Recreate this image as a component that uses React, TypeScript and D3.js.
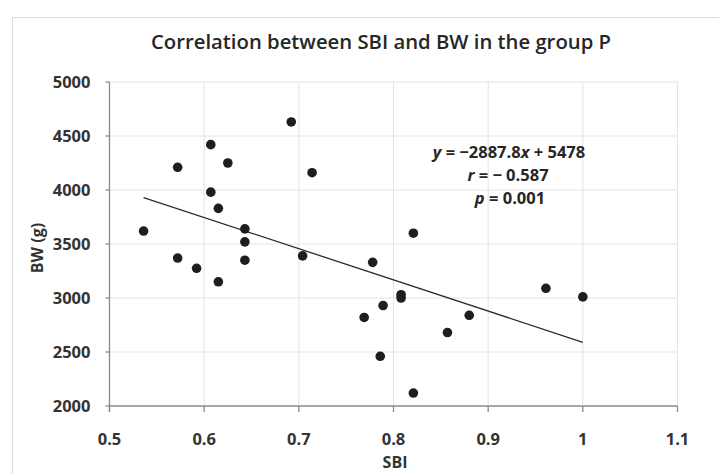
import React from "react";
import * as d3 from "d3";

const sbi = [0.536, 0.572, 0.572, 0.592, 0.607, 0.625, 0.607, 0.615, 0.615, 0.643, 0.643, 0.643, 0.692, 0.714, 0.704, 0.778, 0.821, 0.808, 0.808, 0.789, 0.769, 0.786, 0.821, 0.857, 0.88, 0.961, 1.0];
const bw = [3620, 4210, 3370, 3275, 4420, 4250, 3980, 3830, 3150, 3640, 3520, 3350, 4630, 4160, 3390, 3330, 3600, 3030, 3000, 2930, 2820, 2460, 2120, 2680, 2840, 3090, 3010];
const xTicks = [0.5, 0.6, 0.7, 0.8, 0.9, 1.0, 1.1];
const yTicks = [2000, 2500, 3000, 3500, 4000, 4500, 5000];
const slope = -2887.8;
const intercept = 5478;
const title = "Correlation between SBI and BW in the group P";
const xLabel = "SBI";
const yLabel = "BW (g)";

export default function App() {
  const W = 719, H = 474;
  const x = d3.scaleLinear().domain([0.5, 1.1]).range([109.5, 677.5]);
  const y = d3.scaleLinear().domain([2000, 5000]).range([406, 82]);
  const font = "'Open Sans', sans-serif";
  const gridColor = "#e3e3e3";
  const axisColor = "#8a8a8a";
  const xMin = d3.min(sbi) as number;
  const xMax = d3.max(sbi) as number;
  const line = d3.line<number>().x(d => x(d)).y(d => y(slope * d + intercept));
  const fmtX = (v: number) => (v === 1 ? "1" : d3.format(".1f")(v));
  return (
    <svg width={W} height={H} style={{ position: "absolute", left: 0, top: 0, background: "#fff" }}>
      <rect x={12.5} y={17.5} width={730} height={480} fill="#fff" stroke="#dedede" strokeWidth={1} />
      <text x={381} y={48.5} textAnchor="middle" fontFamily={font} fontWeight={600} fontSize={20} textLength={460} lengthAdjust="spacingAndGlyphs" fill="#262626">{title}</text>
      {yTicks.slice(1).map(t => (
        <line key={"gy" + t} x1={x(0.5)} x2={x(1.1)} y1={y(t)} y2={y(t)} stroke={gridColor} strokeWidth={1} />
      ))}
      {xTicks.slice(1).map(t => (
        <line key={"gx" + t} x1={x(t)} x2={x(t)} y1={y(2000)} y2={y(5000)} stroke={gridColor} strokeWidth={1} />
      ))}
      <line x1={x(0.5)} x2={x(0.5)} y1={y(5000)} y2={y(2000) + 6} stroke={axisColor} strokeWidth={1.3} />
      <line x1={x(0.5)} x2={x(1.1)} y1={y(2000)} y2={y(2000)} stroke={axisColor} strokeWidth={1.3} />
      {yTicks.map(t => (
        <line key={"ty" + t} x1={x(0.5) - 4} x2={x(0.5)} y1={y(t)} y2={y(t)} stroke={axisColor} strokeWidth={1.3} />
      ))}
      {xTicks.map(t => (
        <line key={"tx" + t} x1={x(t)} x2={x(t)} y1={y(2000)} y2={y(2000) + 6} stroke={axisColor} strokeWidth={1.3} />
      ))}
      {yTicks.map(t => (
        <text key={"ly" + t} x={90.5} y={y(t)} dy="0.36em" textAnchor="end" fontFamily={font} fontWeight={700} fontSize={16.5} fill="#333">{t}</text>
      ))}
      {xTicks.map(t => (
        <text key={"lx" + t} x={x(t)} y={439} dy="0.36em" textAnchor="middle" fontFamily={font} fontWeight={700} fontSize={16.5} fill="#333">{fmtX(t)}</text>
      ))}
      <text x={395} y={462} dy="0.36em" textAnchor="middle" fontFamily={font} fontWeight={700} fontSize={16} fill="#333">{xLabel}</text>
      <text transform={`translate(37,248) rotate(-90)`} dy="0.36em" textAnchor="middle" fontFamily={font} fontWeight={700} fontSize={16} fill="#333">{yLabel}</text>
      <path d={line([xMin, xMax]) || ""} stroke="#2b2b2b" strokeWidth={1.3} fill="none" />
      {sbi.map((v, i) => (
        <circle key={"p" + i} cx={x(v)} cy={y(bw[i])} r={4.8} fill="#1e1e1e" />
      ))}
      <g fontFamily={font} fontWeight={700} fontSize={16.5} fill="#262626" textAnchor="middle">
        <text x={509} y={152} dy="0.36em">
          <tspan fontStyle="italic">y</tspan> = −2887.8<tspan fontStyle="italic">x</tspan> + 5478
        </text>
        <text x={508} y={175} dy="0.36em">
          <tspan fontStyle="italic">r</tspan> = − 0.587
        </text>
        <text x={510} y={198} dy="0.36em">
          <tspan fontStyle="italic">p</tspan> = 0.001
        </text>
      </g>
    </svg>
  );
}
